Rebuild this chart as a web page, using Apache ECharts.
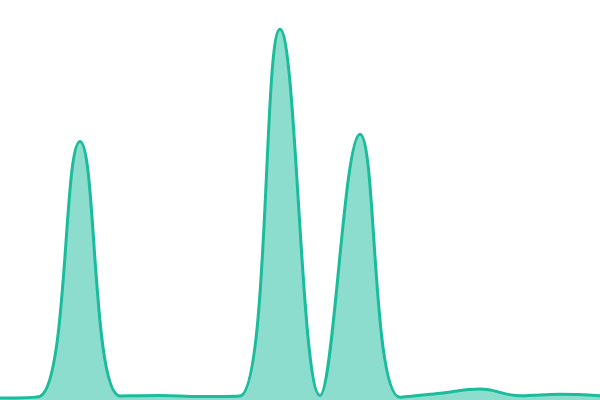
<!DOCTYPE html>
<html>
<head>
<meta charset="utf-8">
<script src="https://cdn.jsdelivr.net/npm/echarts@6/dist/echarts.min.js"></script>
<style>html,body{margin:0;padding:0;background:#fff}#c{width:600px;height:400px}</style>
</head>
<body>
<div id="c"></div>
<script>
const categories = ['0','1','2','3','4','5','6','7','8','9','10','11','12','13','14','15'];
const values = [2, 3.7, 258.5, 4, 4.5, 3.5, 4, 370.8, 4.5, 265.8, 2.7, 6.7, 11, 4.3, 5.7, 4.3];

const chart = echarts.init(document.getElementById('c'));
chart.setOption({
  animation: false,
  grid: { left: 0, right: 0, top: 0, bottom: 0 },
  xAxis: { type: 'category', data: categories, boundaryGap: false, show: false },
  yAxis: { type: 'value', min: 0, max: 400, show: false },
  series: [{
    type: 'line',
    data: values,
    smooth: 0.4,
    symbol: 'none',
    lineStyle: { color: '#1abc9c', width: 3 },
    areaStyle: { color: '#1abc9c', opacity: 0.5 }
  }]
});
</script>
</body>
</html>
